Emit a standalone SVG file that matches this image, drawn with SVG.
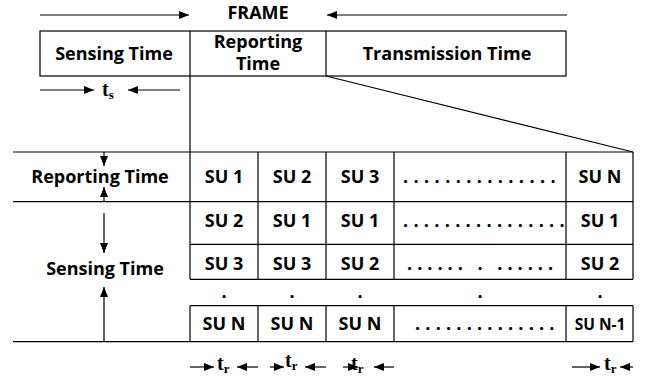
<svg xmlns="http://www.w3.org/2000/svg" width="645" height="378" viewBox="0 0 645 378">
<style>
.l{stroke:#000;stroke-width:1.2;fill:none}
.t{font-family:"Open Sans","Liberation Sans",sans-serif;font-weight:700;font-size:18px;fill:#000;text-anchor:middle}
.d{font-family:"Open Sans","Liberation Sans",sans-serif;font-weight:700;font-size:18px;fill:#000;letter-spacing:5.4px}
.m{font-family:"Liberation Serif",serif;font-weight:700;font-size:20px;fill:#000}
.s{font-size:13px}
</style>
<defs>
<marker id="ah" viewBox="0 0 10 8" refX="10" refY="4" markerWidth="10" markerHeight="8" markerUnits="userSpaceOnUse" orient="auto">
<path d="M0,0 L10,4 L0,8 z" fill="#000"/>
</marker>
</defs>
<rect width="645" height="378" fill="#fff"/>
<g id="frame">
<text class="t" x="258" y="19">FRAME</text>
<rect class="l" x="40" y="31" width="526" height="45"/>
<line class="l" x1="190" y1="31" x2="190" y2="76"/>
<line class="l" x1="326" y1="31" x2="326" y2="76"/>
<text class="t" x="114" y="60">Sensing Time</text>
<text class="t" x="258" y="48">Reporting</text>
<text class="t" x="258" y="70">Time</text>
<text class="t" x="447" y="60">Transmission Time</text>
</g>
<g id="ts-label">
<text class="m" x="102" y="96">t<tspan class="s" dy="3">s</tspan></text>
</g>
<g id="table">
<line class="l" x1="13" y1="152" x2="633" y2="152"/>
<line class="l" x1="13" y1="201.7" x2="633" y2="201.7"/>
<line class="l" x1="190" y1="244.3" x2="633" y2="244.3"/>
<line class="l" x1="190" y1="279.3" x2="633" y2="279.3"/>
<line class="l" x1="190" y1="305.7" x2="633" y2="305.7"/>
<line class="l" x1="13" y1="341.7" x2="633" y2="341.7"/>
<line class="l" x1="190" y1="152" x2="190" y2="279.3"/>
<line class="l" x1="258" y1="152" x2="258" y2="279.3"/>
<line class="l" x1="326" y1="152" x2="326" y2="279.3"/>
<line class="l" x1="394" y1="152" x2="394" y2="279.3"/>
<line class="l" x1="566" y1="152" x2="566" y2="279.3"/>
<line class="l" x1="633" y1="152" x2="633" y2="279.3"/>
<line class="l" x1="190" y1="305.7" x2="190" y2="341.7"/>
<line class="l" x1="258" y1="305.7" x2="258" y2="341.7"/>
<line class="l" x1="326" y1="305.7" x2="326" y2="341.7"/>
<line class="l" x1="394" y1="305.7" x2="394" y2="341.7"/>
<line class="l" x1="566" y1="305.7" x2="566" y2="341.7"/>
<line class="l" x1="633" y1="305.7" x2="633" y2="341.7"/>
<text class="t" x="100" y="183">Reporting Time</text>
<text class="t" x="105" y="275">Sensing Time</text>
<text class="t" x="224" y="183">SU 1</text>
<text class="t" x="292" y="183">SU 2</text>
<text class="t" x="360" y="183">SU 3</text>
<text class="d" x="403" y="183">...............</text>
<text class="t" x="600" y="183">SU N</text>
<text class="t" x="224" y="227">SU 2</text>
<text class="t" x="292" y="227">SU 1</text>
<text class="t" x="360" y="227">SU 1</text>
<text class="d" x="403" y="227" style="letter-spacing:5.3px">................</text>
<text class="t" x="600" y="227">SU 1</text>
<text class="t" x="224" y="270">SU 3</text>
<text class="t" x="292" y="270">SU 3</text>
<text class="t" x="360" y="270">SU 2</text>
<text class="d" x="407" y="270" style="letter-spacing:5.0px">...... . ......</text>
<text class="t" x="600" y="270">SU 2</text>
<text class="t" x="224" y="298">.</text>
<text class="t" x="292" y="298">.</text>
<text class="t" x="360" y="298">.</text>
<text class="t" x="480" y="298">.</text>
<text class="t" x="600" y="298">.</text>
<text class="t" x="224" y="330">SU N</text>
<text class="t" x="292" y="330">SU N</text>
<text class="t" x="360" y="330">SU N</text>
<text class="d" x="415" y="330" style="letter-spacing:5.2px">..............</text>
<text class="t" x="600" y="330" style="font-size:15.5px">SU N-1</text>
</g>
<g id="tr-labels">
<text class="m" x="217" y="370">t<tspan class="s" dy="3">r</tspan></text>
<text class="m" x="285" y="367">t<tspan class="s" dy="3">r</tspan></text>
<text class="m" x="351" y="370">t<tspan class="s" dy="3">r</tspan></text>
<text class="m" x="604" y="370">t<tspan class="s" dy="3">r</tspan></text>
</g>
<g id="connectors">
<line class="l" x1="40" y1="15" x2="189" y2="15" marker-end="url(#ah)"/>
<line class="l" x1="567" y1="15" x2="327" y2="15" marker-end="url(#ah)"/>
<line class="l" x1="190" y1="76" x2="190" y2="152"/>
<line class="l" x1="326" y1="76" x2="633" y2="152"/>
<line class="l" x1="40" y1="90" x2="94" y2="90" marker-end="url(#ah)"/>
<line class="l" x1="180" y1="90" x2="128" y2="90" marker-end="url(#ah)"/>
<line class="l" x1="104" y1="152" x2="104" y2="166" marker-end="url(#ah)"/>
<line class="l" x1="104" y1="201.7" x2="104" y2="187" marker-end="url(#ah)"/>
<line class="l" x1="104" y1="213" x2="104" y2="253" marker-end="url(#ah)"/>
<line class="l" x1="104" y1="341.7" x2="104" y2="287" marker-end="url(#ah)"/>
<line class="l" x1="190" y1="367" x2="214" y2="367" marker-end="url(#ah)"/>
<line class="l" x1="258" y1="367" x2="237" y2="367" marker-end="url(#ah)"/>
<line class="l" x1="270" y1="367" x2="284" y2="367" marker-end="url(#ah)"/>
<line class="l" x1="326" y1="367" x2="305" y2="367" marker-end="url(#ah)"/>
<line class="l" x1="343" y1="367" x2="358" y2="367" marker-end="url(#ah)"/>
<line class="l" x1="394" y1="367" x2="374" y2="367" marker-end="url(#ah)"/>
<line class="l" x1="572" y1="367" x2="600" y2="367" marker-end="url(#ah)"/>
<line class="l" x1="633" y1="367" x2="620" y2="367" marker-end="url(#ah)"/>
</g>
</svg>
